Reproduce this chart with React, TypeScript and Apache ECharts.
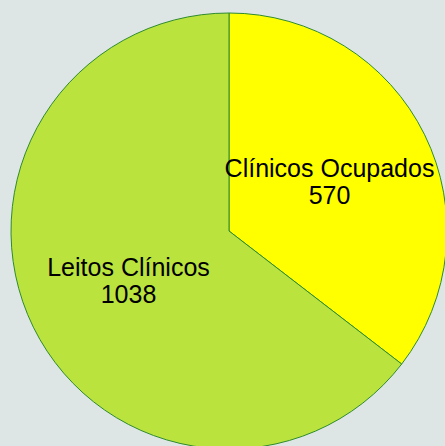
import React, { useEffect, useRef } from "react";
import * as echarts from "echarts";

const categories = ["Clínicos Ocupados", "Leitos Clínicos"];
const values = [570, 1038];
const colors = ["#ffff00", "#bbe33d"];

export default function App() {
  const ref = useRef<HTMLDivElement>(null);
  useEffect(() => {
    if (!ref.current) return;
    const chart = echarts.init(ref.current, undefined, { renderer: "svg" });
    chart.setOption({
      animation: false,
      backgroundColor: "#dee6e5",
      series: [
        {
          type: "pie",
          center: [229, 231],
          radius: 218,
          startAngle: 90,
          clockwise: true,
          data: categories.map((n, i) => ({
            name: n,
            value: values[i],
            itemStyle: { color: colors[i] },
          })),
          itemStyle: { borderColor: "#2e8b2e", borderWidth: 1 },
          label: {
            show: true,
            position: "inside",
            formatter: "{b}\n{c}",
            color: "#000",
            fontFamily: "Liberation Sans",
            fontSize: 25,
            lineHeight: 27,
            align: "center",
          },
          labelLine: { show: false },
          emphasis: { disabled: true },
        },
      ],
    });
    return () => chart.dispose();
  }, []);
  return (
    <div
      ref={ref}
      style={{ position: "fixed", left: 0, top: 0, width: 445, height: 446 }}
    />
  );
}
